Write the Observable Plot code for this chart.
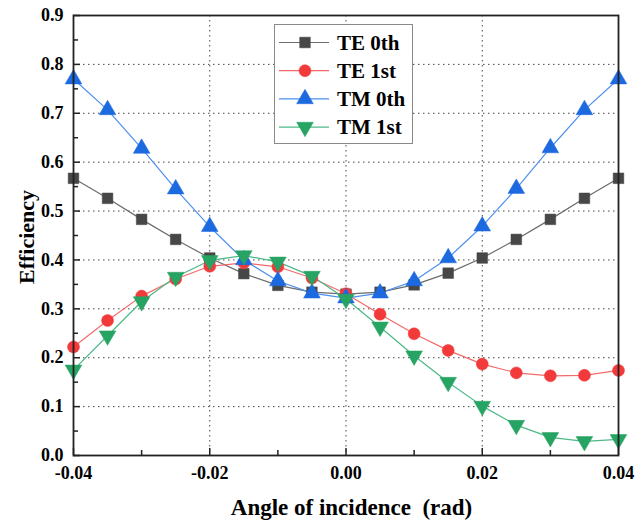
<!DOCTYPE html>
<html>
<head>
<meta charset="utf-8">
<script src="https://cdn.jsdelivr.net/npm/d3@7"></script>
<script src="https://cdn.jsdelivr.net/npm/@observablehq/plot@0.6"></script>
<style>
  html, body { margin: 0; padding: 0; background: #fff; }
  #wrap { position: relative; width: 644px; height: 522px; }
  #legend { position: absolute; left: 274px; top: 24px; width: 139px; height: 120px;
            border: 1px solid #8a8a8a; background: #fff; box-sizing: border-box; }
</style>
</head>
<body>
<div id="wrap"></div>
<script>
// ---- data ----
const angles = [-0.04, -0.035, -0.03, -0.025, -0.02, -0.015, -0.01, -0.005, 0, 0.005, 0.01, 0.015, 0.02, 0.025, 0.03, 0.035, 0.04];
const te0 = [0.567, 0.526, 0.483, 0.442, 0.404, 0.372, 0.348, 0.334, 0.330, 0.334, 0.349, 0.373, 0.404, 0.442, 0.483, 0.526, 0.567];
const te1 = [0.222, 0.276, 0.326, 0.361, 0.387, 0.394, 0.386, 0.363, 0.331, 0.289, 0.249, 0.215, 0.187, 0.169, 0.163, 0.164, 0.174];
const tm0 = [0.770, 0.707, 0.628, 0.545, 0.468, 0.400, 0.357, 0.332, 0.322, 0.332, 0.357, 0.404, 0.469, 0.546, 0.629, 0.707, 0.770];
const tm1 = [0.175, 0.245, 0.315, 0.365, 0.399, 0.409, 0.396, 0.367, 0.320, 0.263, 0.204, 0.150, 0.101, 0.062, 0.037, 0.029, 0.033];
const seriesNames = ["TE 0th", "TE 1st", "TM 0th", "TM 1st"];
const xTicks = [-0.04, -0.02, 0, 0.02, 0.04];
const xMinor = [-0.03, -0.01, 0.01, 0.03];
const yTicks = [0, 0.1, 0.2, 0.3, 0.4, 0.5, 0.6, 0.7, 0.8, 0.9];
const yMinor = [0.05, 0.15, 0.25, 0.35, 0.45, 0.55, 0.65, 0.75, 0.85];
const xLabel = "Angle of incidence\u00a0\u00a0(rad)";
const yLabel = "Efficiency";

// ---- styling ----
const triDown = {
  draw(context, size) {
    const y = -Math.sqrt(size / (Math.sqrt(3) * 3));
    const s3 = Math.sqrt(3);
    context.moveTo(0, -y * 2);
    context.lineTo(-s3 * y, y);
    context.lineTo(s3 * y, y);
    context.closePath();
  }
};
const styles = [
  {name: seriesNames[0], values: te0, line: "#6b6b6b", fill: "#474747", symbol: "square", r: 6},
  {name: seriesNames[1], values: te1, line: "#f46a6a", fill: "#f23a3a", symbol: "circle", r: 6},
  {name: seriesNames[2], values: tm0, line: "#4d8fef", fill: "#1c69e0", symbol: "triangle", r: 6.2},
  {name: seriesNames[3], values: tm1, line: "#4cb987", fill: "#27a463", symbol: triDown, r: 6.2}
];

const W = 644, H = 522;
const mL = 73, mR = 26, mT = 15, mB = 67;
const innerW = W - mL - mR, innerH = H - mT - mB;
const font = "'Liberation Serif', 'Times New Roman', serif";

const marks = [
  Plot.gridX(xTicks.slice(1, -1), {stroke: "#333", strokeOpacity: 0.9, strokeDasharray: "1.5,3.5"}),
  Plot.gridY(yTicks.slice(1, -1), {stroke: "#333", strokeOpacity: 0.9, strokeDasharray: "1.5,3.5"}),
];
for (const s of styles) {
  const rows = angles.map((a, i) => ({x: a, y: s.values[i]}));
  marks.push(Plot.line(rows, {x: "x", y: "y", stroke: s.line, strokeWidth: 1.2}));
}
for (const s of styles) {
  const rows = angles.map((a, i) => ({x: a, y: s.values[i]}));
  marks.push(Plot.dot(rows, {x: "x", y: "y", symbol: () => s.symbol, fill: s.fill, stroke: s.fill, strokeWidth: 0.5, r: s.r}));
}
marks.push(
  Plot.ruleX(xTicks, {stroke: "#222", strokeWidth: 1.5, insetTop: innerH - 7}),
  Plot.ruleX(xMinor, {stroke: "#222", strokeWidth: 1.5, insetTop: innerH - 5}),
  Plot.ruleY(yTicks, {stroke: "#222", strokeWidth: 1.5, insetRight: innerW - 7}),
  Plot.ruleY(yMinor, {stroke: "#222", strokeWidth: 1.5, insetRight: innerW - 5}),
  Plot.axisX(xTicks, {tickSize: 0, tickPadding: 11, tickFormat: d => d3.format(".2f")(d).replace("−", "-"), fontSize: 18, fontWeight: "bold", label: null}),
  Plot.axisY(yTicks, {tickSize: 0, tickPadding: 10, tickFormat: d => d3.format(".1f")(d), fontSize: 18, fontWeight: "bold", label: null}),
  Plot.frame({stroke: "#222", strokeWidth: 1.8})
);

const chart = Plot.plot({
  width: W, height: H,
  marginLeft: mL, marginRight: mR, marginTop: mT, marginBottom: mB,
  style: {fontFamily: font, color: "#000", background: "#fff", overflow: "visible"},
  x: {domain: [-0.04, 0.04]},
  y: {domain: [0, 0.9]},
  marks
});

const wrap = document.getElementById("wrap");
wrap.appendChild(chart);

// axis titles as real text inside the SVG
const svg = d3.select(chart.tagName.toLowerCase() === "svg" ? chart : chart.querySelector("svg"));
svg.append("text")
  .attr("x", mL + innerW / 2 + 6).attr("y", 515)
  .attr("text-anchor", "middle")
  .style("font-family", font).style("font-weight", "bold").style("font-size", "23px")
  .text(xLabel);
svg.append("text")
  .attr("transform", `translate(34,${mT + innerH / 2 + 2}) rotate(-90)`)
  .attr("text-anchor", "middle")
  .style("font-family", font).style("font-weight", "bold").style("font-size", "22px")
  .text(yLabel);

// legend
const leg = d3.select(wrap).append("div").attr("id", "legend");
const lsvg = leg.append("svg").attr("width", 137).attr("height", 118);
styles.forEach((s, i) => {
  const cy = 17.5 + i * 28.2;
  lsvg.append("line").attr("x1", 4).attr("x2", 54).attr("y1", cy).attr("y2", cy)
    .attr("stroke", s.line).attr("stroke-width", 1.2);
  const sym = typeof s.symbol === "string"
    ? {square: d3.symbolSquare, circle: d3.symbolCircle, triangle: d3.symbolTriangle}[s.symbol]
    : s.symbol;
  lsvg.append("path").attr("transform", `translate(30,${cy})`)
    .attr("d", d3.symbol(sym, Math.PI * s.r * s.r)())
    .attr("fill", s.fill).attr("stroke", s.fill).attr("stroke-width", 0.5);
  lsvg.append("text").attr("x", 62).attr("y", cy).attr("dy", "0.35em")
    .style("font-family", font).style("font-weight", "bold").style("font-size", "21px")
    .text(s.name);
});
</script>
</body>
</html>
